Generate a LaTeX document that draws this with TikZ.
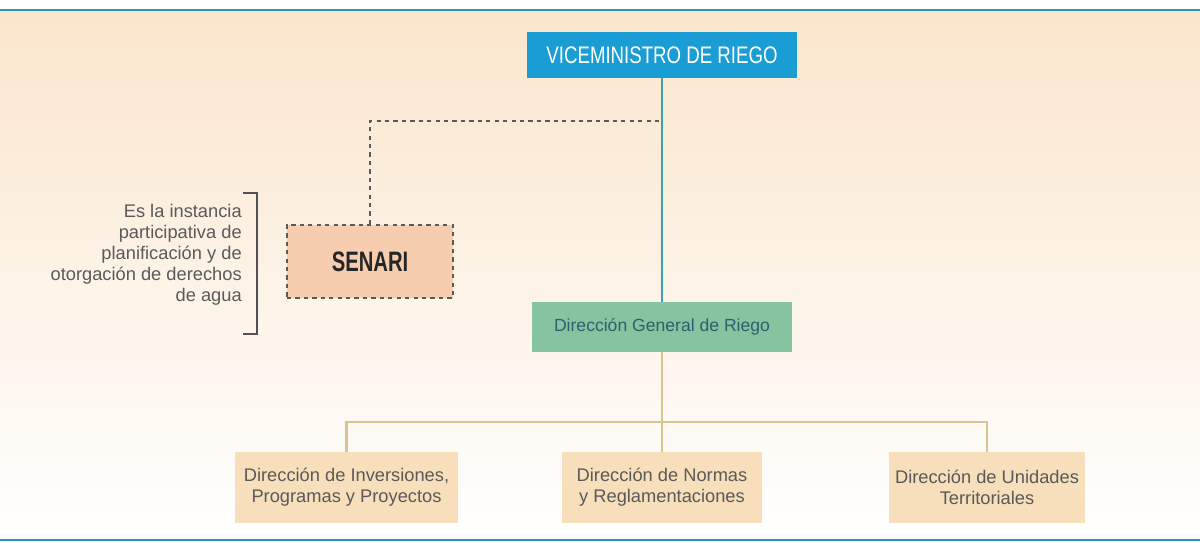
\documentclass[tikz,border=0pt]{standalone}
\usepackage{fontspec}
\setmainfont{Liberation Sans}
\newfontfamily\capsfont[FakeStretch=0.72]{Liberation Sans}
\newfontfamily\vicefont[FakeStretch=0.78]{Liberation Sans}
\usetikzlibrary{positioning}

\definecolor{viceblue}{HTML}{1A9DD4}
\definecolor{rulecol}{HTML}{2596BE}
\definecolor{tealline}{HTML}{3A9FB8}
\definecolor{senarifill}{HTML}{F7CDB0}
\definecolor{genfill}{HTML}{85C49E}
\definecolor{gentext}{HTML}{2E5E70}
\definecolor{tanfill}{HTML}{F6DFBA}
\definecolor{tanline}{HTML}{D8C48E}
\definecolor{graytext}{HTML}{5A5A5A}
\definecolor{bgpeach}{HTML}{FAE6CC}

\begin{document}
\begin{tikzpicture}[
  x=0.025cm, y=-0.025cm,
  box/.style={inner sep=0pt,align=center,minimum height=1.775cm},
  dirbox/.style={box,fill=tanfill,text=graytext,font=\fontsize{13}{15}\selectfont},
  tanedge/.style={draw=tanline,line width=1.5pt},
  dashedge/.style={draw=graytext,dashed,line width=1.2pt}
]
\useasboundingbox (0,0) rectangle (1200,543);

% background and rules
\fill[top color=bgpeach,middle color=bgpeach!85!white,bottom color=white,shading angle=0] (0,11) rectangle (1200,539);
\draw[rulecol,line width=2pt] (0,10) -- (1200,10);
\draw[rulecol,line width=2pt] (0,540) -- (1200,540);

\node[box,fill=viceblue,text=white,minimum width=6.75cm,minimum height=1.15cm,
  font=\vicefont\fontsize{17}{19}\selectfont] (vice) at (662,55) {VICEMINISTRO DE RIEGO};
\node[box,fill=genfill,text=gentext,minimum width=6.5cm,minimum height=1.25cm,
  font=\fontsize{12.5}{15}\selectfont] (gen) at (662,327) {Dirección General de Riego};
\node[box,fill=senarifill,draw=graytext,dashed,line width=1.2pt,minimum width=4.15cm,minimum height=1.825cm,
  font=\capsfont\bfseries\fontsize{20}{22}\selectfont,text=black!85] (senari) at (370,261.5) {SENARI};

\node[align=right,anchor=east,inner sep=0pt,text=graytext,font=\fontsize{13}{15}\selectfont] (note) at (242,255)
  {Es la instancia\\participativa de\\planificación y de\\otorgación de derechos\\de agua};
\draw[graytext!90!black,line width=1.2pt] ([xshift=1pt]note.east |- 0,193) -- (257,193) -- (257,334) -- ([xshift=1pt]note.east |- 0,334);

\node[dirbox,minimum width=5.575cm] (inv) at (346.5,487.5) {Dirección de Inversiones,\\Programas y Proyectos};
\node[dirbox,minimum width=5cm] (nor) at (662,487.5) {Dirección de Normas\\y Reglamentaciones};
\node[dirbox,minimum width=4.875cm] (uni) at (987,487.5) {Dirección de Unidades\\Territoriales};

\coordinate (dk) at (370,121);
\coordinate (bar) at (662,422);

\draw[tealline,line width=1.5pt] (vice) -- (gen);
\path[dashedge] (senari.north) -- (dk) -- (dk -| vice.south);
\path[tanedge] (gen) -- (nor)
  (inv.north) -- (inv.north |- bar) -- (uni.north |- bar) -- (uni.north);

\end{tikzpicture}
\end{document}
